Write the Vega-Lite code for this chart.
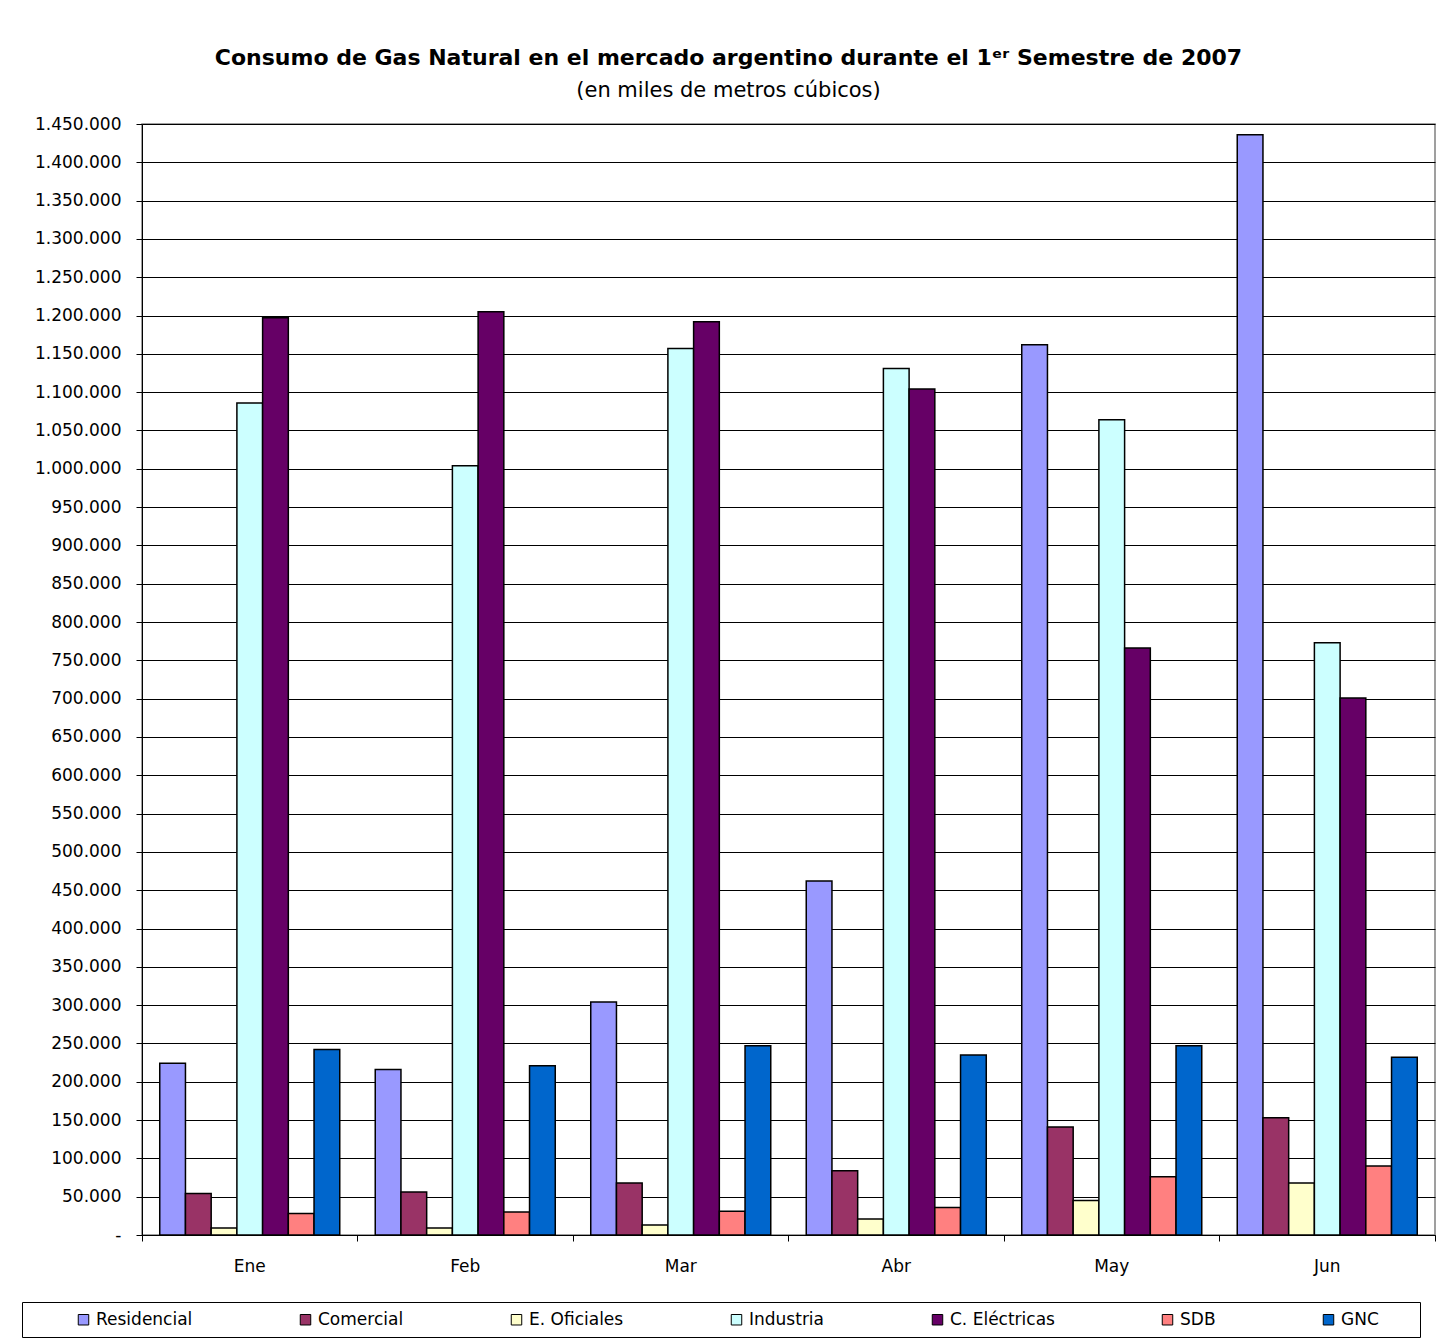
{
  "$schema": "https://vega.github.io/schema/vega-lite/v6.json",
  "autosize": {"type": "none"},
  "width": 1293,
  "height": 1111,
  "padding": {"left": 142, "top": 124, "right": 18, "bottom": 105},
  "background": "white",
  "title": {
    "text": "Consumo de Gas Natural en el mercado argentino durante el 1ᵉʳ Semestre de 2007",
    "subtitle": "(en miles de metros cúbicos)",
    "anchor": "middle",
    "frame": "group",
    "dx": -60,
    "offset": 13,
    "font": "DejaVu Sans",
    "fontSize": 22,
    "fontWeight": "bold",
    "color": "black",
    "subtitleFont": "DejaVu Sans",
    "subtitleFontSize": 21,
    "subtitleColor": "black",
    "subtitlePadding": 10
  },
  "data": {
    "values": [
      {"mes": "Ene", "tipo": "Residencial", "valor": 224000},
      {"mes": "Ene", "tipo": "Comercial", "valor": 54000},
      {"mes": "Ene", "tipo": "E. Oficiales", "valor": 9000},
      {"mes": "Ene", "tipo": "Industria", "valor": 1086000},
      {"mes": "Ene", "tipo": "C. Eléctricas", "valor": 1197000},
      {"mes": "Ene", "tipo": "SDB", "valor": 28000},
      {"mes": "Ene", "tipo": "GNC", "valor": 242000},
      {"mes": "Feb", "tipo": "Residencial", "valor": 216000},
      {"mes": "Feb", "tipo": "Comercial", "valor": 56000},
      {"mes": "Feb", "tipo": "E. Oficiales", "valor": 9000},
      {"mes": "Feb", "tipo": "Industria", "valor": 1004000},
      {"mes": "Feb", "tipo": "C. Eléctricas", "valor": 1205000},
      {"mes": "Feb", "tipo": "SDB", "valor": 30000},
      {"mes": "Feb", "tipo": "GNC", "valor": 221000},
      {"mes": "Mar", "tipo": "Residencial", "valor": 304000},
      {"mes": "Mar", "tipo": "Comercial", "valor": 68000},
      {"mes": "Mar", "tipo": "E. Oficiales", "valor": 13000},
      {"mes": "Mar", "tipo": "Industria", "valor": 1157000},
      {"mes": "Mar", "tipo": "C. Eléctricas", "valor": 1192000},
      {"mes": "Mar", "tipo": "SDB", "valor": 31000},
      {"mes": "Mar", "tipo": "GNC", "valor": 247000},
      {"mes": "Abr", "tipo": "Residencial", "valor": 462000},
      {"mes": "Abr", "tipo": "Comercial", "valor": 84000},
      {"mes": "Abr", "tipo": "E. Oficiales", "valor": 21000},
      {"mes": "Abr", "tipo": "Industria", "valor": 1131000},
      {"mes": "Abr", "tipo": "C. Eléctricas", "valor": 1104000},
      {"mes": "Abr", "tipo": "SDB", "valor": 36000},
      {"mes": "Abr", "tipo": "GNC", "valor": 235000},
      {"mes": "May", "tipo": "Residencial", "valor": 1162000},
      {"mes": "May", "tipo": "Comercial", "valor": 141000},
      {"mes": "May", "tipo": "E. Oficiales", "valor": 45000},
      {"mes": "May", "tipo": "Industria", "valor": 1064000},
      {"mes": "May", "tipo": "C. Eléctricas", "valor": 766000},
      {"mes": "May", "tipo": "SDB", "valor": 76000},
      {"mes": "May", "tipo": "GNC", "valor": 247000},
      {"mes": "Jun", "tipo": "Residencial", "valor": 1436000},
      {"mes": "Jun", "tipo": "Comercial", "valor": 153000},
      {"mes": "Jun", "tipo": "E. Oficiales", "valor": 68000},
      {"mes": "Jun", "tipo": "Industria", "valor": 773000},
      {"mes": "Jun", "tipo": "C. Eléctricas", "valor": 701000},
      {"mes": "Jun", "tipo": "SDB", "valor": 90000},
      {"mes": "Jun", "tipo": "GNC", "valor": 232000}
    ]
  },
  "mark": {"type": "bar", "stroke": "black", "strokeWidth": 1.5},
  "encoding": {
    "x": {
      "field": "mes",
      "type": "nominal",
      "sort": ["Ene", "Feb", "Mar", "Abr", "May", "Jun"],
      "scale": {"paddingInner": 0, "paddingOuter": 0},
      "axis": {
        "title": null,
        "labelAngle": 0,
        "bandPosition": 1,
        "tickExtra": true,
        "tickSize": 6,
        "tickColor": "black",
        "domainColor": "black",
        "labelPadding": 17,
        "labelFont": "DejaVu Sans",
        "labelFontSize": 17,
        "labelColor": "black",
        "grid": false
      }
    },
    "xOffset": {
      "field": "tipo",
      "type": "nominal",
      "sort": ["Residencial", "Comercial", "E. Oficiales", "Industria", "C. Eléctricas", "SDB", "GNC"],
      "scale": {"paddingInner": 0, "paddingOuter": 0.69}
    },
    "y": {
      "field": "valor",
      "type": "quantitative",
      "scale": {"domain": [0, 1450000], "nice": false},
      "axis": {
        "title": null,
        "values": [0, 50000, 100000, 150000, 200000, 250000, 300000, 350000, 400000, 450000, 500000, 550000, 600000, 650000, 700000, 750000, 800000, 850000, 900000, 950000, 1000000, 1050000, 1100000, 1150000, 1200000, 1250000, 1300000, 1350000, 1400000, 1450000],
        "format": ",.0f",
        "labelExpr": "datum.value === 0 ? '-' : datum.label",
        "grid": true,
        "gridColor": "black",
        "gridWidth": 1,
        "gridOpacity": 1,
        "tickSize": 6,
        "tickColor": "black",
        "domainColor": "black",
        "labelPadding": 15,
        "labelFont": "DejaVu Sans",
        "labelFontSize": 17,
        "labelColor": "black"
      }
    },
    "color": {
      "field": "tipo",
      "type": "nominal",
      "scale": {
        "domain": ["Residencial", "Comercial", "E. Oficiales", "Industria", "C. Eléctricas", "SDB", "GNC"],
        "range": ["#9999FF", "#993366", "#FFFFCC", "#CCFFFF", "#660066", "#FF8080", "#0066CC"]
      },
      "legend": {
        "title": " ",
        "titleOrient": "right",
        "titleFontSize": 8,
        "titlePadding": 32,
        "orient": "none",
        "legendX": -120,
        "legendY": 1178,
        "direction": "horizontal",
        "columns": 7,
        "columnPadding": 60,
        "symbolOffset": 44,
        "padding": 9,
        "strokeColor": "black",
        "symbolType": "square",
        "symbolSize": 110,
        "symbolStrokeColor": "black",
        "symbolStrokeWidth": 1,
        "labelOffset": 4,
        "labelFont": "DejaVu Sans",
        "labelFontSize": 17,
        "labelColor": "black"
      }
    }
  },
  "config": {
    "locale": {
      "number": {"decimal": ",", "thousands": ".", "grouping": [3], "currency": ["$", ""]}
    },
    "view": {"stroke": "#808080", "strokeWidth": 1.5}
  }
}
